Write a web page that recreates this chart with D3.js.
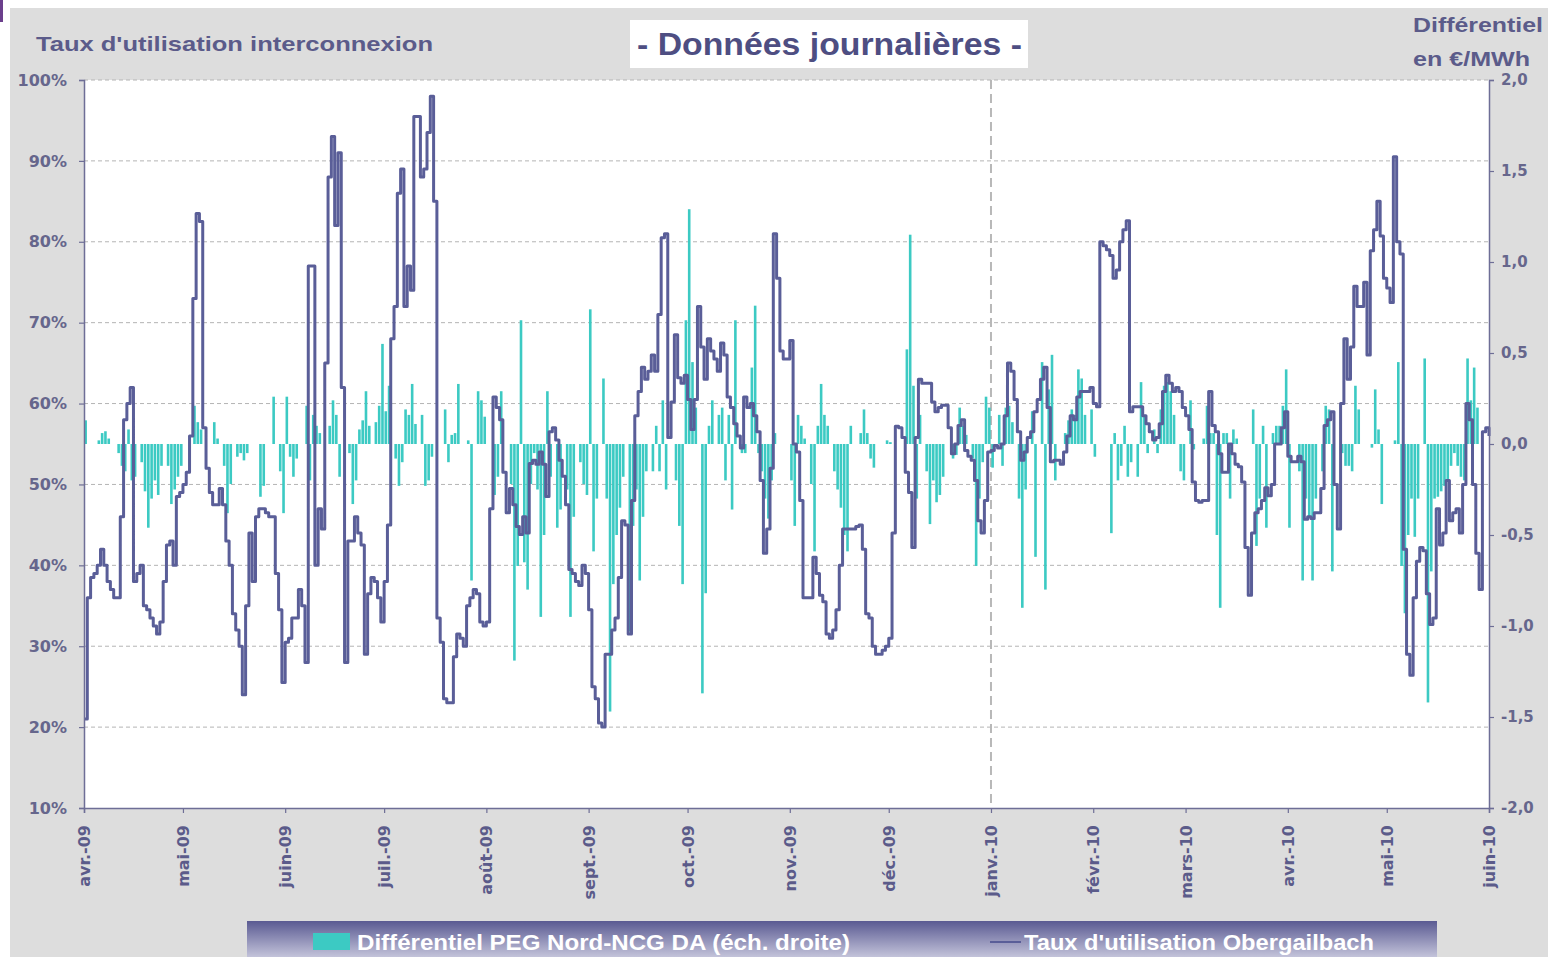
<!DOCTYPE html>
<html>
<head>
<meta charset="utf-8">
<script src="https://cdn.jsdelivr.net/npm/d3@7"></script>
<style>
  html, body { margin: 0; padding: 0; background: #ffffff; }
  svg { display: block; }
</style>
</head>
<body>
<svg id="chart" width="1548" height="957"></svg>
<script>
// Daily series, one value per day starting 1 April 2009
const startDay = Date.UTC(2009, 3, 1);
const endDay = Date.UTC(2010, 5, 1);

// Taux d'utilisation Obergailbach (%), left scale
const utilisation = [
  21, 36, 38.5, 39, 40, 42, 40, 38, 37, 36,
  36, 46, 58, 60, 62, 38, 39, 40, 35, 34.5,
  33.5, 32.5, 31.5, 33, 38, 42.5, 43, 40, 48.5, 49,
  50, 51.5, 56, 73, 83.5, 82.5, 57, 52, 49, 47.5,
  47.5, 49.5, 47.5, 43, 40, 34, 32, 30, 24, 35,
  44, 38, 46, 47, 47, 46.5, 46, 46, 39, 34.5,
  25.5, 30.5, 31, 33.5, 33.5, 37, 35, 28, 77, 77,
  40, 47, 44.5, 65, 88, 93, 82, 91, 62, 28,
  43, 43, 46, 44, 42.5, 29, 36.5, 38.5, 38, 36,
  33, 38, 45, 68, 72, 86, 89, 72, 77, 74,
  95.5, 95.5, 88, 89, 93.5, 98, 85, 33.5, 30.5, 23.5,
  23, 23, 28.7, 31.5, 31, 30, 35, 36, 37, 36.5,
  33, 32.5, 33, 47, 60.8, 59.5, 58, 51.5, 46.5, 49.5,
  47.5, 44.8, 43.8, 46, 44, 52.6, 53, 52.5, 54, 52.5,
  48.5, 56.5, 57, 55.5, 53, 51, 47.5, 39.5, 39, 38,
  37.5, 40, 39, 34.5, 25, 23.5, 20.5, 20, 29, 29,
  32, 33.5, 38.5, 45.5, 45, 31.5, 48, 58.5, 61.5, 64.5,
  63, 64, 66, 64, 71, 80.5, 81, 55.8, 60.2, 68.5,
  63.2, 62.5, 63.5, 60.5, 56.8, 60.5, 72, 67, 63, 68,
  66.5, 65.5, 64, 67.5, 66, 60.8, 59.5, 57.5, 56, 54.5,
  60.8, 59.5, 60, 58.5, 56.5, 50.5, 41.5, 44.5, 52, 81,
  75.5, 66.5, 65.5, 65.5, 67.8, 55, 54, 48, 36, 36,
  36, 41, 39, 36.3, 35.5, 31.5, 31, 32, 34.5, 40,
  44.5, 44.5, 44.5, 44.5, 44.8, 45, 42, 34, 33.5, 30,
  29, 29, 29.5, 30, 31, 44, 57.2, 57, 55.8, 51.5,
  49, 42.2, 55.8, 63, 62.5, 62.5, 62.5, 60.2, 59, 59.5,
  59.8, 59.8, 57, 53.8, 55, 57.3, 58, 54.2, 53.5, 53,
  50.5, 45.5, 44, 48, 54, 54.2, 54.8, 54.5, 55, 58.5,
  65, 64, 60.5, 56.5, 53, 54, 55.8, 56.5, 59, 60.5,
  63, 64.5, 59.5, 52.8, 53, 53, 52.5, 54, 56, 58.5,
  58, 60.8, 61.5, 61.5, 61.5, 62, 60, 59.6, 80, 79.5,
  79, 78.3, 75.5, 76.5, 80, 81.5, 82.6, 59, 59.6, 59.6,
  59.6, 58.5, 57.5, 56.5, 55.5, 55.8, 57.5, 61.5, 63.5, 62.5,
  61.5, 62, 61.5, 59.5, 58.5, 56.8, 50.3, 48, 47.8, 48,
  48, 61.5, 57.3, 56.5, 53.8, 51.5, 51.5, 55, 53.8, 52.5,
  52.2, 50.3, 42.2, 36.3, 44, 46.5, 47, 48, 49.6, 48.6,
  50, 55, 55, 57, 59, 53.5, 52.8, 52.8, 53.5, 52.8,
  45.7, 46, 45.8, 46.5, 46.5, 49.5, 57.3, 58, 59, 50,
  44.5, 60, 68, 63, 67, 74.5, 72, 72, 75, 66,
  78.9, 81.5, 85, 80.7, 75.5, 74.3, 72.5, 90.5, 80, 78.5,
  42, 29, 26.4, 36, 40.5, 42.2, 41.8, 36.5, 32.7, 33.5,
  47, 42.5, 44, 50.5, 45.5, 46.5, 47, 44, 50, 60,
  58, 50, 41.5, 37, 56.5, 57, 56
];

// Différentiel PEG Nord-NCG DA (€/MWh), right scale
const differentiel = [
  0.13, 0, 0, 0, 0.02, 0.06, 0.07, 0.03, 0, 0,
  -0.05, -0.12, -0.15, 0.08, -0.2, -0.18, 0, -0.1, -0.26, -0.46,
  -0.3, -0.2, -0.28, -0.12, 0, -0.12, -0.33, -0.25, -0.18, -0.12,
  0, 0, 0, 0.21, 0.12, 0.08, 0, 0, 0, 0.12,
  0.03, 0, -0.12, -0.38, -0.22, 0, -0.07, -0.05, -0.09, -0.05,
  0, 0, 0, -0.29, -0.23, 0, 0, 0.26, 0, -0.15,
  -0.38, 0.26, -0.07, -0.18, -0.08, 0, 0, 0.21, -0.2, 0.16,
  0.1, 0.06, 0, 0, 0.1, 0.24, 0.16, -0.18, 0, 0,
  -0.05, -0.33, -0.2, 0.08, 0.13, 0.29, 0.1, 0, 0.12, 0.21,
  0.55, 0.18, 0.32, 0, -0.08, -0.23, -0.1, 0.19, 0.16, 0.33,
  0.11, 0, 0.16, -0.23, -0.2, -0.07, 0, 0, 0, 0.19,
  -0.1, 0.05, 0.06, 0.33, 0, 0, 0.02, -0.75, 0, 0.29,
  0.24, 0.15, 0, 0, -0.28, -0.18, 0.29, 0, 0, -0.22,
  -1.19, -0.67, 0.68, -0.65, -0.8, -0.22, -0.05, -0.25, -0.95, -0.5,
  0.29, -0.18, 0, -0.46, -0.36, 0, -0.25, -0.95, -0.4, 0,
  -0.1, -0.22, -0.28, 0.74, -0.59, -0.3, 0, 0.36, -0.3, -1.47,
  -0.77, -0.5, -0.35, -0.18, 0, -1.03, -0.45, -0.25, -0.75, -0.4,
  -0.15, 0, -0.15, 0.1, -0.15, 0.24, -0.25, 0, 0, -0.2,
  -0.45, -0.77, 0.68, 1.29, 0.45, 0.2, 0, -1.37, -0.82, 0.1,
  0.24, 0, 0.16, 0.2, -0.2, 0.16, -0.36, 0.68, 0, -0.05,
  -0.05, 0, 0.42, 0.76, -0.05, -0.15, -0.3, -0.41, -0.2, 0.06,
  0, 0, 0, 0, -0.2, -0.45, 0.16, 0.1, 0.03, 0,
  -0.22, -0.59, 0.1, 0.33, 0.16, 0.1, 0, -0.15, -0.25, -0.35,
  -0.5, -0.59, 0.1, 0, 0, 0.06, 0.19, 0.06, -0.08, -0.13,
  0, 0, 0, 0.02, 0.01, 0, 0, 0, 0, 0.52,
  1.15, 0.32, -0.3, 0.16, 0, -0.15, -0.44, -0.2, -0.32, -0.28,
  -0.18, 0, 0, -0.08, -0.06, 0.2, 0.1, 0.05, 0, -0.08,
  -0.67, -0.3, -0.1, 0.26, 0.2, -0.13, 0, 0.16, -0.12, 0.2,
  0.21, 0.12, 0, -0.3, -0.9, -0.25, 0, 0.18, -0.62, 0,
  0.45, -0.8, 0.3, 0.49, -0.2, 0, 0, 0.06, 0.13, 0.19,
  0.16, 0.41, 0.36, 0.16, 0, 0.19, -0.07, 0, 0, 0,
  0, -0.49, 0.06, -0.2, -0.12, 0.1, -0.18, -0.1, 0, -0.18,
  0.34, 0.16, -0.05, 0, 0.08, -0.05, 0.19, 0.32, 0.34, 0.29,
  0.16, 0, -0.15, -0.2, 0, 0.24, -0.03, 0, 0, 0.03,
  0.21, 0.06, 0.06, -0.5, -0.9, 0.06, 0.06, -0.3, 0.08, 0.03,
  0, 0, 0, 0, 0.19, -0.56, -0.3, 0.1, -0.46, 0,
  0.06, 0.1, 0.1, 0.21, 0.41, -0.46, 0, 0, -0.15, -0.75,
  -0.3, -0.4, -0.75, -0.3, 0, -0.15, 0.21, 0.19, -0.7, 0,
  0, -0.05, -0.12, -0.12, -0.15, 0.32, 0.19, 0, 0, 0,
  -0.02, 0.3, 0.08, -0.33, 0, 0, 0, 0.02, 0.45, -0.67,
  -0.93, -0.5, -0.3, -0.51, -0.3, 0, 0.47, -1.42, -0.7, -0.3,
  -0.29, -0.26, -0.23, -0.2, -0.12, -0.05, -0.12, -0.18, -0.2, 0.47,
  0.24, 0.42, 0.2, 0, 0, 0, 0
];

const monthLabels = ["avr.-09", "mai-09", "juin-09", "juil.-09", "août-09", "sept.-09", "oct.-09",
  "nov.-09", "déc.-09", "janv.-10", "févr.-10", "mars-10", "avr.-10", "mai-10", "juin-10"];
const leftTicks = [10, 20, 30, 40, 50, 60, 70, 80, 90, 100];
const rightTicks = [-2, -1.5, -1, -0.5, 0, 0.5, 1, 1.5, 2];
const yearBreak = Date.UTC(2010, 0, 1);

const titleText = "- Données journalières -";
const leftAxisTitle = "Taux d'utilisation interconnexion";
const rightAxisTitle = ["Différentiel", "en €/MWh"];
const legendBars = "Différentiel PEG Nord-NCG DA (éch. droite)";
const legendLine = "Taux d'utilisation Obergailbach";

// ---- drawing ----
const svg = d3.select("#chart");
const W = 1548, H = 957;
const plot = { left: 84, right: 1489, top: 80, bottom: 808 };
const textColor = "#5b5b8a";
const axisColor = "#6e6e96";
const barColor = "#3ccac3";
const lineColor = "#5a5e98";
const sans = "DejaVu Sans, Verdana, sans-serif";
const narrow = "Liberation Sans, Arial, sans-serif";

const days = utilisation.map((_, i) => new Date(startDay + i * 864e5));

const x = d3.scaleUtc().domain([new Date(startDay), new Date(endDay)]).range([plot.left, plot.right]);
const yL = d3.scaleLinear().domain([10, 100]).range([plot.bottom, plot.top]);
const yR = d3.scaleLinear().domain([-2, 2]).range([plot.bottom, plot.top]);

// backgrounds
svg.append("rect").attr("width", W).attr("height", H).attr("fill", "#ffffff");
svg.append("rect").attr("x", 10).attr("y", 8).attr("width", W - 10).attr("height", H - 8).attr("fill", "#dddddd");
svg.append("rect").attr("x", 0).attr("y", 0).attr("width", 3).attr("height", 22).attr("fill", "#6b3f8c");
svg.append("rect")
  .attr("x", plot.left).attr("y", plot.top)
  .attr("width", plot.right - plot.left).attr("height", plot.bottom - plot.top)
  .attr("fill", "#ffffff");

// horizontal dashed gridlines
svg.append("g").selectAll("line")
  .data(leftTicks.filter(v => v > 10))
  .join("line")
  .attr("x1", plot.left).attr("x2", plot.right)
  .attr("y1", d => yL(d)).attr("y2", d => yL(d))
  .attr("stroke", "#b4b4b4").attr("stroke-width", 1)
  .attr("stroke-dasharray", "4,3");

// year separator
svg.append("line")
  .attr("x1", x(new Date(yearBreak))).attr("x2", x(new Date(yearBreak)))
  .attr("y1", plot.top).attr("y2", plot.bottom)
  .attr("stroke", "#b8b8b8").attr("stroke-width", 2)
  .attr("stroke-dasharray", "9,5");

// differential bars
const dayW = x(new Date(startDay + 864e5)) - x(new Date(startDay));
const barW = 2.6;
svg.append("g").selectAll("rect")
  .data(differentiel.map((v, i) => ({ v, d: days[i] })).filter(o => o.v !== 0))
  .join("rect")
  .attr("x", o => x(o.d) + dayW / 2 - barW / 2)
  .attr("width", barW)
  .attr("y", o => Math.min(yR(o.v), yR(0)))
  .attr("height", o => Math.abs(yR(o.v) - yR(0)))
  .attr("fill", barColor);

// utilisation line
const line = d3.line()
  .x((v, i) => x(days[i]))
  .y(v => yL(v))
  .curve(d3.curveStepAfter);
svg.append("path")
  .datum(utilisation)
  .attr("d", line)
  .attr("fill", "none")
  .attr("stroke", lineColor)
  .attr("stroke-width", 3)
  .attr("stroke-linejoin", "round");

// axes
const leftAxis = d3.axisLeft(yL).tickValues(leftTicks).tickFormat(d => d + "%").tickSize(5).tickPadding(12);
const rightAxis = d3.axisRight(yR).tickValues(rightTicks)
  .tickFormat(d => d3.format(".1f")(d).replace(".", ",").replace("−", "-")).tickSize(5).tickPadding(7);
const monthTicks = d3.utcMonth.range(new Date(startDay), new Date(endDay + 1));
const bottomAxis = d3.axisBottom(x).tickValues(monthTicks).tickFormat((d, i) => monthLabels[i]).tickSize(5).tickPadding(0);

function styleAxis(g) {
  g.select(".domain").attr("stroke", axisColor).attr("stroke-width", 1.5);
  g.selectAll(".tick line").attr("stroke", axisColor).attr("stroke-width", 1.2);
  g.selectAll(".tick text").attr("fill", "#66668c");
}

const gL = svg.append("g").attr("transform", `translate(${plot.left},0)`).call(leftAxis);
styleAxis(gL);
gL.selectAll(".tick text").attr("font-family", sans)
  .attr("font-size", 16).attr("font-weight", "bold");

const gR = svg.append("g").attr("transform", `translate(${plot.right},0)`).call(rightAxis);
styleAxis(gR);
gR.selectAll(".tick text").attr("font-family", sans)
  .attr("font-size", 15).attr("font-weight", "bold");

const gB = svg.append("g").attr("transform", `translate(0,${plot.bottom})`).call(bottomAxis);
styleAxis(gB);
gB.selectAll(".tick text")
  .attr("font-family", sans)
  .attr("font-size", 16)
  .attr("font-weight", "bold")
  .attr("fill", textColor)
  .attr("text-anchor", "end")
  .attr("transform", "translate(0,17) rotate(-90)")
  .attr("dx", 0).attr("dy", "0.35em").attr("x", 0).attr("y", 0);

// titles
svg.append("text")
  .attr("x", 36).attr("y", 51)
  .attr("font-family", narrow)
  .attr("font-size", 21).attr("font-weight", "bold").attr("fill", textColor)
  .attr("textLength", 397).attr("lengthAdjust", "spacingAndGlyphs")
  .text(leftAxisTitle);

svg.append("rect").attr("x", 630).attr("y", 20).attr("width", 398).attr("height", 48).attr("fill", "#ffffff");
svg.append("text")
  .attr("x", 637).attr("y", 55)
  .attr("font-family", narrow)
  .attr("font-size", 31).attr("font-weight", "bold").attr("fill", "#4e4e82")
  .attr("textLength", 385).attr("lengthAdjust", "spacingAndGlyphs")
  .text(titleText);

svg.append("text")
  .attr("x", 1413).attr("y", 32)
  .attr("font-family", narrow)
  .attr("font-size", 21).attr("font-weight", "bold").attr("fill", textColor)
  .attr("textLength", 130).attr("lengthAdjust", "spacingAndGlyphs")
  .text(rightAxisTitle[0]);
svg.append("text")
  .attr("x", 1413).attr("y", 66)
  .attr("font-family", narrow)
  .attr("font-size", 21).attr("font-weight", "bold").attr("fill", textColor)
  .attr("textLength", 117).attr("lengthAdjust", "spacingAndGlyphs")
  .text(rightAxisTitle[1]);

// legend
const defs = svg.append("defs");
const grad = defs.append("linearGradient").attr("id", "legendGrad").attr("x1", 0).attr("y1", 0).attr("x2", 0).attr("y2", 1);
grad.append("stop").attr("offset", "0%").attr("stop-color", "#5a5a92");
grad.append("stop").attr("offset", "100%").attr("stop-color", "#cfcfe2");
svg.append("rect").attr("x", 247).attr("y", 921).attr("width", 1190).attr("height", 40).attr("fill", "url(#legendGrad)");

svg.append("rect").attr("x", 313).attr("y", 933).attr("width", 37).attr("height", 17).attr("fill", barColor);
svg.append("text")
  .attr("x", 357).attr("y", 950)
  .attr("font-family", narrow)
  .attr("font-size", 22).attr("font-weight", "bold").attr("fill", "#ffffff")
  .attr("textLength", 493).attr("lengthAdjust", "spacingAndGlyphs")
  .text(legendBars);

svg.append("line").attr("x1", 990).attr("x2", 1021).attr("y1", 942).attr("y2", 942)
  .attr("stroke", lineColor).attr("stroke-width", 2);
svg.append("text")
  .attr("x", 1024).attr("y", 950)
  .attr("font-family", narrow)
  .attr("font-size", 22).attr("font-weight", "bold").attr("fill", "#ffffff")
  .attr("textLength", 350).attr("lengthAdjust", "spacingAndGlyphs")
  .text(legendLine);
</script>
</body>
</html>
